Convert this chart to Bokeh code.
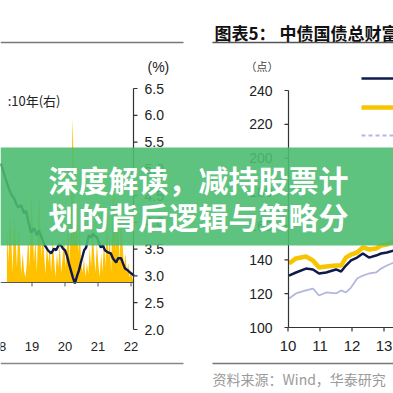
from bokeh.plotting import figure
from bokeh.models import Range1d, BoxAnnotation
from bokeh.core.properties import value
from bokeh.embed import file_html
from bokeh.resources import INLINE
import numpy as np

# ---------------- data: left chart (10Y yield, right axis; yellow series, left axis) -------------
L_YEARS = [18.06, 18.18, 18.30, 18.39, 18.45, 18.52, 18.58, 18.67, 18.76, 18.82, 18.88, 18.97,
           19.06, 19.15, 19.21, 19.30, 19.39, 19.48, 19.58, 19.67, 19.73, 19.82, 19.88, 19.94,
           20.00, 20.06, 20.12, 20.18, 20.24, 20.30, 20.36, 20.42, 20.48, 20.52, 20.58, 20.64,
           20.70, 20.73, 20.79, 20.85, 20.91, 20.97, 21.03, 21.09, 21.15, 21.21, 21.30, 21.39,
           21.45, 21.55, 21.61, 21.70, 21.76, 21.82, 21.91, 22.00, 22.09]
L_YIELD = [5.10, 4.85, 4.63, 4.50, 4.46, 4.35, 4.28, 4.32, 4.17, 4.22, 4.04, 3.81,
           3.89, 3.76, 3.85, 3.70, 3.57, 3.48, 3.42, 3.51, 3.48, 3.59, 3.57, 3.51,
           3.48, 3.38, 3.23, 3.10, 2.97, 2.86, 2.99, 3.10, 3.25, 3.34, 3.48, 3.53,
           3.70, 3.76, 3.72, 3.79, 3.74, 3.72, 3.61, 3.53, 3.57, 3.48, 3.44, 3.42,
           3.33, 3.25, 3.33, 3.33, 3.23, 3.14, 3.10, 3.05, 3.01]
L_BAR_START, L_BAR_END = 18.24, 22.09
L_BAR = [37, 12, 43, 27, 6, 40, 30, 9, 34, 24, 5, 18, 7, 3, 12,
         30, 9, 55, 37, 12, 27, 6, 43, 52, 15, 34, 18, 5, 24, 12,
         21, 6, 27, 15, 3, 18, 9, 24, 6, 15, 30, 9, 21, 37, 12,
         55, 100, 61, 24, 43, 18, 34, 12,
         6, 15, 3, 12, 5, 21, 9, 38, 18, 6, 24, 12, 3, 18, 6,
         27, 9, 43, 15, 30, 6, 49, 61, 18, 58, 37, 12, 46, 24, 9, 18, 6, 12, 3, 7, 2, 0]
L_XTICKS = [18, 19, 20, 21, 22]
L_XLABELS = ["18", "19", "20", "21", "22"]
L_YTICKS = [2.0, 2.5, 3.0, 3.5, 4.0, 4.5, 5.0, 5.5, 6.0, 6.5]
L_YLABELS = ["2.0", "2.5", "3.0", "3.5", "4.0", "4.5", "5.0", "5.5", "6.0", "6.5"]

# ---------------- data: right chart (中债国债总财富指数) ----------------
R_YEARS = [10.03, 10.25, 10.56, 10.78, 10.97, 11.19, 11.50, 11.66, 11.81, 11.97, 12.16,
           12.34, 12.53, 12.75, 12.91, 13.09, 13.31]
R_NAVY = [130.7, 132.5, 134.8, 134.3, 131.9, 132.5, 134.3, 133.1, 136.6, 139.6, 141.3,
          143.7, 141.3, 142.5, 143.7, 144.3, 145.5]
R_YELLOW = [137.8, 140.8, 141.9, 139.6, 135.4, 136.0, 136.6, 136.6, 141.3, 143.1, 144.3,
            147.3, 146.1, 146.7, 148.4, 149.0, 151.4]
R_GREY = [117.1, 120.1, 121.9, 123.0, 118.9, 120.7, 120.1, 121.9, 120.7, 123.6, 128.9,
          130.7, 131.9, 132.5, 134.8, 136.6, 138.4]
R_XTICKS = [10, 11, 12, 13]
R_XLABELS = ["10", "11", "12", "13"]
R_YTICKS = [100, 120, 140, 160, 180, 200, 220, 240]
R_YLABELS = ["100", "120", "140", "160", "180", "200", "220", "240"]

TITLE_R = "图表5：  中债国债总财富"
SOURCE_R = "资料来源：Wind，华泰研究"
LEGEND_L = ":10年(右)"
BANNER = ["深度解读，减持股票计", "划的背后逻辑与策略分"]

NAVY = "#0e1a4c"
GOLD = "#FFC000"
TXT = "#222222"
FONT = value("Liberation Sans")
CJK = value("Noto Sans CJK SC")

# page pixel window covered by the frame
PX0, PX1 = 0, 393


def rng(va, pa, vb, pb, flip=False):
    k = (vb - va) / (pb - pa)
    lo = va + (PX0 - pa) * k
    hi = va + (PX1 - pa) * k
    return Range1d(hi, lo) if flip else Range1d(lo, hi)


p = figure(width=PX1 - PX0, height=PX1 - PX0, x_range=Range1d(PX0, PX1),
           y_range=Range1d(PX1, PX0),
           output_backend="svg", toolbar_location=None, min_border=0,
           x_axis_location=None, y_axis_location=None, outline_line_color=None)
p.grid.visible = False
p.background_fill_color = "white"
p.border_fill_color = "white"

p.extra_x_ranges = {
    "lx": rng(19, 31.5, 22, 130.5),
    "rx": rng(10, 287.5, 13, 383.5),
}
p.extra_y_ranges = {
    "ly": rng(2.0, 329, 6.5, 88, flip=True),
    "lb": rng(0, 282, 100, 118, flip=True),
    "ry": rng(100, 327, 240, 90, flip=True),
}

# ---------- left chart ----------
bx = np.linspace(L_BAR_START, L_BAR_END, len(L_BAR))
p.varea(x=bx, y1=0, y2=L_BAR, fill_color=GOLD, x_range_name="lx", y_range_name="lb")
p.line(L_YEARS, L_YIELD, line_color=NAVY, line_width=2.4, x_range_name="lx", y_range_name="ly")

# x axis (crosses at 0 of the left scale)
p.segment(x0=[0], x1=[133], y0=[0], y1=[0], line_color="#555555", line_width=1,
          y_range_name="lb")
p.segment(x0=L_XTICKS, x1=L_XTICKS, y0=282, y1=286, line_color="#555555", line_width=1,
          x_range_name="lx")
p.text(x=L_XTICKS, y=346, text=L_XLABELS, x_range_name="lx", text_font=FONT,
       text_font_size="13px", text_color=TXT, text_align="center", text_baseline="middle")

# right y axis
p.segment(x0=[133], x1=[133], y0=[L_YTICKS[0]], y1=[L_YTICKS[-1]], line_color="#333333",
          line_width=1.2, y_range_name="ly")
p.segment(x0=133, x1=137, y0=L_YTICKS, y1=L_YTICKS, line_color="#333333", line_width=1.2,
          y_range_name="ly")
p.text(x=144, y=L_YTICKS, text=L_YLABELS, y_range_name="ly", text_font=FONT,
       text_font_size="14px", text_color=TXT, text_align="left", text_baseline="middle")
p.text(x=[147], y=[66], text=["(%)"], text_font=FONT, text_font_size="14px", text_color=TXT,
       text_align="left", text_baseline="middle")
p.text(x=[60], y=[100], text=[LEGEND_L], text_font=CJK, text_font_size="13px",
       text_color=TXT, text_align="right", text_baseline="middle")

# ---------- right chart ----------
p.line(R_YEARS, R_GREY, line_color="#b3b7dd", line_width=1.8, x_range_name="rx", y_range_name="ry")
p.line(R_YEARS, R_YELLOW, line_color="#F7C500", line_width=4.5, x_range_name="rx", y_range_name="ry")
p.line(R_YEARS, R_NAVY, line_color=NAVY, line_width=2.5, x_range_name="rx", y_range_name="ry")

p.segment(x0=[288], x1=[288], y0=[R_YTICKS[0]], y1=[R_YTICKS[-1]], line_color="#333333",
          line_width=1.2, y_range_name="ry")
p.segment(x0=284, x1=288, y0=R_YTICKS, y1=R_YTICKS, line_color="#333333", line_width=1.2,
          y_range_name="ry")
p.text(x=272, y=R_YTICKS, text=R_YLABELS, y_range_name="ry", text_font=FONT,
       text_font_size="14px", text_color=TXT, text_align="right", text_baseline="middle")
p.segment(x0=[288], x1=[393], y0=[R_YTICKS[0]], y1=[R_YTICKS[0]], line_color="#333333",
          line_width=1.2, y_range_name="ry")
p.segment(x0=R_XTICKS, x1=R_XTICKS, y0=327, y1=331, line_color="#333333", line_width=1.2,
          x_range_name="rx")
p.text(x=R_XTICKS, y=345, text=R_XLABELS, x_range_name="rx", text_font=FONT,
       text_font_size="15px", text_color=TXT, text_align="center", text_baseline="middle")
p.text(x=[245], y=[65], text=["（点）"], text_font=CJK, text_font_size="11px", text_color="#444444",
       text_align="left", text_baseline="middle")

# legend samples (labels fall outside the picture)
p.segment(x0=[361], x1=[393], y0=[78], y1=[78], line_color=NAVY, line_width=2.5)
p.segment(x0=[361], x1=[393], y0=[107], y1=[107], line_color="#F7C500", line_width=4.5)
p.segment(x0=[361], x1=[393], y0=[135], y1=[135], line_color="#b3b7dd", line_width=1.8,
          line_dash="4 3")

# panel frames, title, source
p.segment(x0=[0, 212, 0, 212], x1=[183, 393, 183, 393], y0=[42, 42, 363, 363],
          y1=[42, 42, 363, 363], line_color=["#777777", "#555555", "#888888", "#777777"],
          line_width=1.6)
p.text(x=[214], y=[32], text=[TITLE_R], text_font=CJK, text_font_style="bold",
       text_font_size="17px", text_color="#111111", text_align="left", text_baseline="middle")
p.text(x=[212], y=[378], text=[SOURCE_R], text_font=CJK, text_font_size="14px",
       text_color="#9a9a9a", text_align="left", text_baseline="middle")

# banner overlay
p.add_layout(BoxAnnotation(left=0, right=393, top=147, bottom=245, fill_color="#4cbd70",
                           fill_alpha=0.9, line_color=None))
r = p.text(x=[48, 48], y=[178, 215], text=BANNER, text_font=CJK, text_font_style="bold",
           text_font_size="30px", text_color="white", text_align="left", text_baseline="middle")
r.level = "overlay"

open("out.html", "w").write(file_html(p, INLINE))
